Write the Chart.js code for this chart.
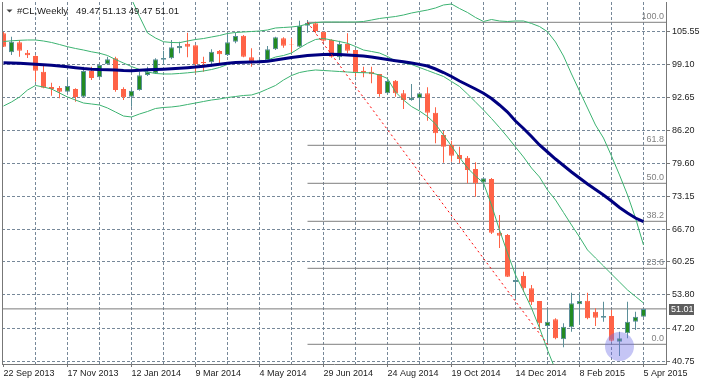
<!DOCTYPE html>
<html><head><meta charset="utf-8">
<script src="https://cdn.jsdelivr.net/npm/chart.js@4/dist/chart.umd.min.js"></script>
<style>html,body{margin:0;padding:0;background:#fff;overflow:hidden}canvas{display:block}</style>
</head><body>
<canvas id="c" width="702" height="383"></canvas>
<script>
const symbolTitle = '#CL,Weekly';
const dateLabels = ['22 Sep 2013','17 Nov 2013','12 Jan 2014','9 Mar 2014','4 May 2014','29 Jun 2014','24 Aug 2014','19 Oct 2014','14 Dec 2014','8 Feb 2015','5 Apr 2015'];
const priceTicks = [105.55, 99.10, 92.65, 86.20, 79.60, 73.15, 66.70, 60.25, 53.80, 47.20, 40.75];

const openP = [105.24,101.50,103.47,101.42,100.77,97.68,94.67,94.47,93.75,94.28, 92.76,97.82,96.58,99.14,100.32,94.28,92.76,94.08,97.03,97.37, 100.04,100.32,102.29,103.19,102.88,99.59,99.53,101.75,100.97,103.58, 104.76,100.52,99.85,99.98,102.09,104.25,103.07,102.60,106.73,107.20, 105.55,103.92,100.52,103.13,101.95,97.88,97.68,97.23,93.43,95.91, 93.43,92.11,92.45,93.43,89.61,85.23,83.26,81.29,80.76,78.54, 75.88,76.57,66.00,65.55,56.30,57.48,55.06,52.56,47.64,48.96, 45.03,47.38,51.91,52.62,50.46,49.28,49.61,44.55,46.21,48.49, 49.47];
const highP = [105.49,104.57,103.92,101.95,100.91,98.80,95.52,94.87,96.05,94.42, 98.67,98.67,99.33,100.63,100.63,94.61,94.42,97.68,98.67,100.32, 101.81,103.92,103.58,105.36,102.88,100.63,102.09,101.95,104.90,105.36, 104.90,102.29,100.18,102.74,104.57,104.45,104.25,107.72,107.85,107.52, 105.55,104.06,103.78,105.24,101.95,98.67,98.67,97.23,96.05,96.05, 94.08,95.26,93.43,94.61,90.67,86.01,84.10,82.92,81.09,79.85, 76.96,76.76,69.48,65.75,59.65,58.33,55.71,52.56,50.93,49.16, 48.17,54.19,54.08,54.19,51.12,52.42,50.79,46.52,52.42,50.46, 51.13];
const lowP = [102.54,100.97,100.63,100.38,95.71,94.42,92.96,92.45,93.43,91.78, 92.64,96.05,96.38,99.00,93.75,92.11,90.79,93.94,96.83,97.23, 98.98,100.12,101.30,100.52,97.37,97.68,98.66,98.99,100.77,103.27, 100.52,98.66,99.39,99.85,101.95,102.40,101.42,102.48,105.36,105.24, 103.58,100.44,99.98,101.30,96.70,96.58,95.40,92.76,93.10,92.76, 90.34,91.97,90.48,88.04,83.59,79.77,79.97,79.72,75.72,73.09, 74.40,65.75,62.99,57.28,53.15,54.39,51.77,46.86,44.04,45.03, 43.45,46.52,47.84,48.96,47.64,48.49,44.55,41.74,45.22,46.86, 49.47];
const closeP = [102.60,103.58,101.81,100.91,97.88,94.53,94.28,93.75,94.87,92.70, 97.82,96.44,99.00,100.12,94.08,92.64,93.94,96.97,97.68,100.12, 100.38,102.48,102.74,102.60,99.20,99.33,101.62,101.11,103.47,104.71, 100.63,99.65,100.04,102.09,104.45,102.80,102.99,106.67,107.32,105.69, 103.78,100.63,103.13,101.81,97.49,97.49,97.17,93.29,95.85,93.43, 92.11,92.57,93.43,89.61,85.56,82.92,81.15,80.50,78.34,75.72, 76.70,66.00,65.41,57.34,56.69,55.06,52.31,48.17,48.49,45.22, 47.50,52.11,52.56,49.16,49.28,49.61,44.75,45.22,48.49,49.47, 51.01];

const maSlow = [99.43,99.39,99.33,99.24,99.14,99.04,98.94,98.80,98.67,98.47, 98.29,98.17,98.09,98.06,98.02,97.92,97.88,97.98,98.06,98.11, 98.17,98.25,98.35,98.47,98.61,98.76,98.96,99.16,99.33,99.47, 99.55,99.59,99.63,99.75,99.98,100.22,100.46,100.69,100.87,100.99, 101.07,101.10,101.05,100.97,100.87,100.77,100.57,100.34,100.08,99.85, 99.63,99.39,99.12,98.80,98.21,97.52,96.74,95.85,95.06,94.28, 93.43,92.41,91.13,89.75,87.98,86.50,84.93,83.26,81.88,80.50, 79.22,77.95,76.76,75.58,74.50,73.42,72.24,70.96,69.88,68.89, 68.17];
const bbUpper = [116.71,116.12,115.73,115.33,114.94,114.74,114.74,114.74,114.94,115.14, 115.33,115.73,116.12,116.51,116.12,114.55,111.99,108.54,105.30,104.31, 103.58,103.43,103.39,103.72,104.02,104.21,104.51,104.80,105.20,105.40, 105.49,105.59,105.69,105.89,106.28,106.38,106.48,106.67,107.07,107.36, 107.46,107.46,107.46,107.46,107.46,107.56,107.85,108.15,108.35,108.54, 108.84,109.23,109.53,109.82,110.22,110.81,111.00,110.12,109.33,108.35, 107.56,107.95,107.66,107.56,107.66,107.66,107.17,106.57,105.55,103.53, 100.77,97.23,93.88,90.54,87.19,84.63,81.09,77.36,73.42,68.89, 63.58];
const bbMiddle = [103.62,103.76,103.86,103.92,103.92,103.72,103.43,103.03,102.60,102.25, 101.95,101.60,101.32,100.87,100.08,99.39,98.70,98.11,97.62,97.33, 97.23,97.23,97.33,97.46,97.62,97.82,98.11,98.51,99.10,99.49, 99.63,99.63,99.65,99.98,100.57,100.87,101.36,102.35,103.27,104.02, 104.21,103.92,103.62,103.27,102.64,101.95,101.66,101.36,100.67,99.79, 99.39,99.10,98.51,97.92,97.33,96.74,95.75,94.77,93.29,91.72, 90.15,88.47,86.70,84.83,82.86,80.90,78.73,76.96,74.40,72.44, 69.98,67.52,65.15,62.60,61.02,59.45,57.87,56.30,54.73,53.45, 52.17];
const bbLower = [90.93,91.72,92.70,94.08,94.97,94.67,94.28,93.49,92.70,92.11, 91.52,91.33,91.13,90.54,89.75,88.96,88.77,89.36,89.85,90.44, 90.64,90.74,90.93,91.23,91.52,91.82,92.11,92.31,92.60,92.80, 93.00,93.10,93.59,94.28,94.97,96.05,96.93,97.52,97.82,98.02, 97.92,97.82,97.72,97.62,97.52,97.49,97.43,97.03,96.34,93.69, 92.11,90.83,89.95,88.87,87.39,85.23,83.06,80.80,78.73,77.16, 75.78,71.45,66.53,62.01,57.68,54.53,51.18,47.25,42.92,38.99, 36.03,34.07,33.08,33.08,33.48,34.07,35.05,36.03,37.02,38.00, 38.99];

const fibHigh = 107.40, fibLow = 44.04;
const fibStartBar = 38, fibEndBar = 68;
const fibLevels = [100.0, 61.8, 50.0, 38.2, 23.6, 0.0];
const markerBar = 77, markerPrice = 43.6;

// ---- styling / layout ----
const FONT = '"Liberation Sans", Arial, sans-serif';
const BEAR = '#FF6347', BULL_FILL = '#228B22', BULL_EDGE = '#5B8F99';
const X_MIN = -0.1875, X_MAX = 82.8125;
const Y_MIN = 40.165, Y_MAX = 111.396;

const N = openP.length;
const idx = openP.map((_, i) => i);
const bull = idx.map(i => closeP[i] >= openP[i]);
const fibPrice = l => fibLow + (fibHigh - fibLow) * l / 100;
const lastClose = closeP[N - 1];
const xy = arr => arr.map((v, i) => ({x: i, y: v}));
const lineDs = (data, color, width, order, extra) => Object.assign({
  type: 'line', data, borderColor: color, borderWidth: width, pointRadius: 0,
  tension: 0, fill: false, order
}, extra || {});

const datasets = [
  lineDs([{x: X_MIN, y: lastClose}, {x: X_MAX, y: lastClose}], '#7a7a7a', 1, 10),
  ...fibLevels.map(l => lineDs([{x: fibStartBar, y: fibPrice(l)}, {x: X_MAX, y: fibPrice(l)}], '#7f7f7f', 1, 9)),
  { type: 'bar', data: idx.map(i => ({x: i, y: [lowP[i], highP[i]]})),
    backgroundColor: idx.map(i => bull[i] ? BULL_EDGE : BEAR), borderWidth: 0,
    barThickness: 1, grouped: false, inflateAmount: 0, order: 6 },
  { type: 'bar', data: idx.map(i => ({x: i, y: [Math.min(openP[i], closeP[i]), Math.max(openP[i], closeP[i])]})),
    backgroundColor: idx.map(i => bull[i] ? BULL_FILL : BEAR),
    borderColor: idx.map(i => bull[i] ? BULL_EDGE : BEAR), borderWidth: 1, borderSkipped: false,
    barThickness: 5, grouped: false, inflateAmount: 0, order: 5 },
  lineDs(xy(bbUpper), '#3CB371', 1, 4),
  lineDs(xy(bbMiddle), '#3CB371', 1, 4),
  lineDs(xy(bbLower), '#3CB371', 1, 4),
  lineDs(xy(maSlow), '#000080', 3, 3),
  lineDs([{x: fibStartBar, y: fibHigh}, {x: fibEndBar, y: fibLow}], '#FF0000', 1, 2, {borderDash: [2, 3]}),
  { type: 'scatter', data: [{x: markerBar, y: markerPrice}], pointRadius: 14.5,
    backgroundColor: 'rgba(110,110,230,0.4)', borderWidth: 0, order: 1 }
];

const overlay = {
  id: 'overlay',
  afterDraw(chart) {
    const {ctx, chartArea: a, scales: {y}} = chart;
    ctx.save();
    // left frame line
    ctx.strokeStyle = '#777'; ctx.lineWidth = 1;
    ctx.beginPath(); ctx.moveTo(2.5, a.top); ctx.lineTo(2.5, a.bottom + 1); ctx.stroke();
    // fib level labels
    ctx.font = '9px ' + FONT;
    ctx.fillStyle = '#808080'; ctx.textAlign = 'right'; ctx.textBaseline = 'alphabetic';
    fibLevels.forEach(l => {
      const py = y.getPixelForValue(fibPrice(l));
      ctx.fillText(l.toFixed(1), a.right - 2, py - 3);
    });
    // header
    ctx.fillStyle = '#444';
    ctx.beginPath(); ctx.moveTo(6.5, 9.5); ctx.lineTo(12.5, 9.5); ctx.lineTo(9.5, 12.5); ctx.closePath(); ctx.fill();
    ctx.font = '9.5px ' + FONT;
    ctx.fillStyle = '#1a1a1a'; ctx.textAlign = 'left';
    ctx.fillText(symbolTitle, 17, 13.5);
    ctx.fillText([openP[N-1], highP[N-1], lowP[N-1], closeP[N-1]].map(v => v.toFixed(2)).join(' '), 76, 13.5);
    // last price box on the axis
    ctx.font = '9px ' + FONT;
    const py = Math.round(y.getPixelForValue(lastClose));
    ctx.fillStyle = '#5e5e5e'; ctx.fillRect(a.right + 3, py - 5, 25, 11);
    ctx.fillStyle = '#fff'; ctx.textBaseline = 'middle';
    ctx.fillText(lastClose.toFixed(2), a.right + 5, py + 0.5);
    ctx.restore();
  }
};

new Chart(document.getElementById('c'), {
  type: 'line',
  data: { datasets },
  plugins: [overlay],
  options: {
    responsive: false, animation: false, devicePixelRatio: 1,
    layout: { autoPadding: false, padding: { left: 2, top: 2, right: 0, bottom: 0 } },
    plugins: { legend: { display: false }, tooltip: { enabled: false } },
    events: [],
    scales: {
      x: {
        type: 'linear', position: 'bottom', min: X_MIN, max: X_MAX, offset: false,
        afterBuildTicks: s => { s.ticks = idx.filter(i => i % 4 === 0).map(v => ({value: v})); },
        afterFit: s => { s.height = 19; s.paddingLeft = 0; s.paddingRight = 0; },
        ticks: { autoSkip: false, maxRotation: 0, minRotation: 0, align: 'start', padding: 1,
          color: '#222', font: { family: FONT, size: 9 },
          callback: v => (v % 8 === 0 ? dateLabels[v / 8] : '') },
        grid: { offset: false, tickLength: 3,
          color: c => (c.tick && c.tick.value === 0 ? 'rgba(0,0,0,0)' : '#778899'),
          tickColor: c => (c.tick && c.tick.value % 8 === 0 ? '#777' : 'rgba(0,0,0,0)') },
        border: { display: true, color: '#777', dash: [3, 2] }
      },
      y: {
        type: 'linear', position: 'right', min: Y_MIN, max: Y_MAX, beginAtZero: false,
        afterBuildTicks: s => { s.ticks = priceTicks.map(v => ({value: v})); },
        afterFit: s => { s.width = 36; s.paddingTop = 0; s.paddingBottom = 0; },
        ticks: { padding: 2, color: '#222', font: { family: FONT, size: 9 }, callback: v => v.toFixed(2) },
        grid: { color: '#778899', tickLength: 4, tickColor: '#777' },
        border: { display: true, color: '#777', dash: [3, 2] }
      }
    }
  }
});
</script>
</body></html>
